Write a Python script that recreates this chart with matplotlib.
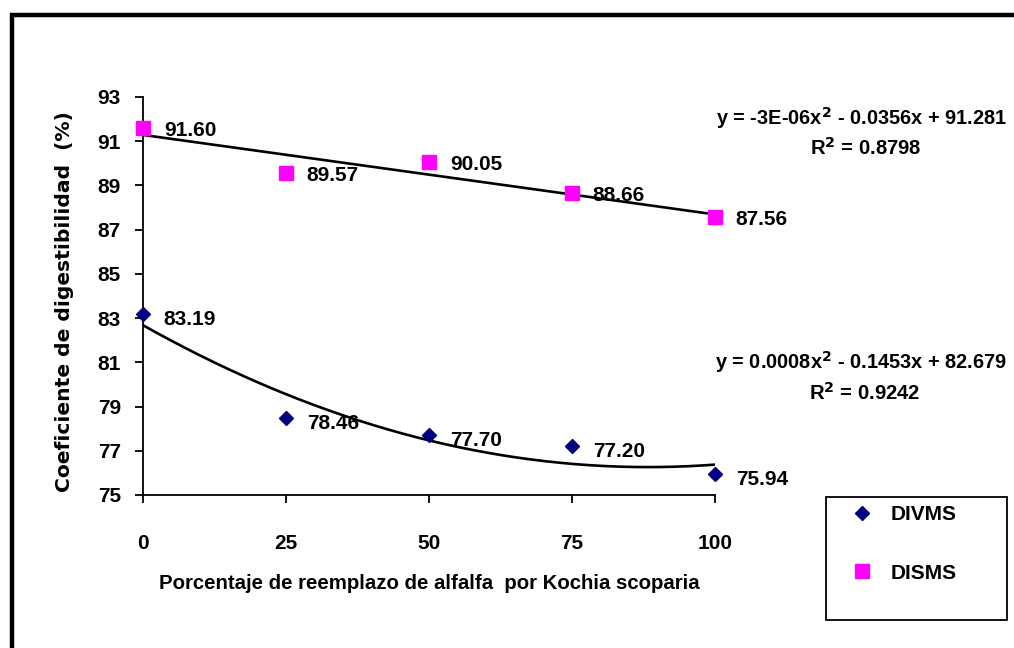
import numpy as np
import matplotlib
matplotlib.use("Agg")
import matplotlib.pyplot as plt
from matplotlib.patches import Rectangle
from matplotlib.lines import Line2D

x_vals = [0, 25, 50, 75, 100]
divms = [83.19, 78.46, 77.70, 77.20, 75.94]
disms = [91.60, 89.57, 90.05, 88.66, 87.56]
y_ticks = [75, 77, 79, 81, 83, 85, 87, 89, 91, 93]
x_ticks = [0, 25, 50, 75, 100]
series_names = ["DIVMS", "DISMS"]
eq_divms = "y = 0.0008x$^2$ - 0.1453x + 82.679"
r2_divms = "R$^2$ = 0.9242"
eq_disms = "y = -3E-06x$^2$ - 0.0356x + 91.281"
r2_disms = "R$^2$ = 0.8798"

plt.rcParams['font.family'] = ['Liberation Sans', 'DejaVu Sans']
plt.rcParams['font.weight'] = 'bold'
plt.rcParams['mathtext.default'] = 'bf'

W, H = 1014, 648
fig = plt.figure(figsize=(W/100, H/100), dpi=100)
fig.patch.set_facecolor('white')

def fx(px):
    return px / W

def fy(py):
    return 1 - py / H

# outer frame (extends beyond the image)
fig.patches.append(Rectangle((fx(12), fy(700)), 2.0, fy(15) - fy(700),
                             transform=fig.transFigure, fill=False,
                             edgecolor='black', linewidth=3.2))

ax = fig.add_axes([fx(143), fy(495), fx(715) - fx(143), fy(97) - fy(495)])
ax.set_xlim(0, 100)
ax.set_ylim(75, 93)
for s in ['top', 'right']:
    ax.spines[s].set_visible(False)
for s in ['left', 'bottom']:
    ax.spines[s].set_linewidth(1.3)
ax.set_xticks(x_ticks)
ax.set_yticks(y_ticks)
ax.tick_params(axis='y', direction='out', length=6, width=1.3, pad=10, labelsize=15)
ax.tick_params(axis='x', direction='out', length=6, width=1.3, pad=22, labelsize=15)
for lbl in ax.get_xticklabels() + ax.get_yticklabels():
    lbl.set_fontweight('bold')

xs = np.linspace(0, 100, 200)
c1 = np.polyfit(x_vals, divms, 2)
c2 = np.polyfit(x_vals, disms, 2)
ax.plot(xs, np.polyval(c1, xs), color='black', lw=1.9, zorder=2)
ax.plot(xs, np.polyval(c2, xs), color='black', lw=1.9, zorder=2)

ax.plot(x_vals, divms, linestyle='none', marker='D', markersize=7,
        color='#000080', clip_on=False, zorder=3)
ax.plot(x_vals, disms, linestyle='none', marker='s', markersize=10,
        color='#FF00FF', clip_on=False, zorder=3)

for xv, yv in zip(x_vals, divms):
    ax.annotate(f"{yv:.2f}", (xv, yv), xytext=(15, -3.8), textcoords='offset points',
                ha='left', va='center', fontsize=15, fontweight='bold')
for xv, yv in zip(x_vals, disms):
    ax.annotate(f"{yv:.2f}", (xv, yv), xytext=(15, -1.8), textcoords='offset points',
                ha='left', va='center', fontsize=15, fontweight='bold')

ax.set_ylabel("Coeficiente de digestibilidad  (%)", fontsize=14.6, fontweight='bold',
              family='DejaVu Sans')
ax.yaxis.set_label_coords(-0.1206, 0.485)
ax.set_xlabel("Porcentaje de reemplazo de alfalfa  por Kochia scoparia", fontsize=14.7,
              fontweight='bold', labelpad=15)

fig.text(fx(716), fy(118), eq_disms, ha='left', va='center', fontsize=14.4, fontweight='bold')
fig.text(fx(866), fy(148), r2_disms, ha='center', va='center', fontsize=14.6, fontweight='bold')
fig.text(fx(715), fy(362), eq_divms, ha='left', va='center', fontsize=14.4, fontweight='bold')
fig.text(fx(865), fy(393), r2_divms, ha='center', va='center', fontsize=14.6, fontweight='bold')

# legend
fig.patches.append(Rectangle((fx(826), fy(620)), fx(1007) - fx(826), fy(497) - fy(620),
                             transform=fig.transFigure, fill=False,
                             edgecolor='black', linewidth=1.3))
handles = [Line2D([], [], linestyle='none', marker='D', markersize=7, color='#000080'),
           Line2D([], [], linestyle='none', marker='s', markersize=10, color='#FF00FF')]
fig.legend(handles, series_names, loc='upper left', bbox_to_anchor=(fx(836), fy(495)),
           frameon=False, prop={'weight': 'bold', 'size': 15},
           labelspacing=1.88, handletextpad=0.6, borderpad=0.5, handlelength=1.5,
           borderaxespad=0)

fig.savefig("out.png", dpi=100)
